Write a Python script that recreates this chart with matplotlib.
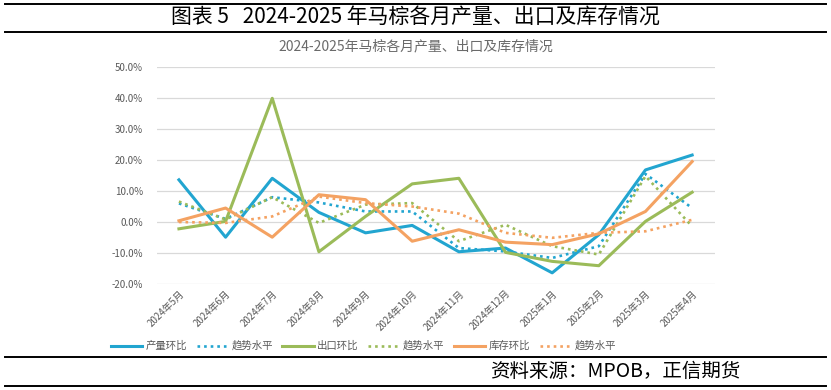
import matplotlib
matplotlib.use("Agg")
import matplotlib.pyplot as plt
from matplotlib.ticker import FuncFormatter, MultipleLocator
from matplotlib.lines import Line2D
import numpy as np

plt.rcParams['font.family'] = ['Noto Sans CJK SC', 'DejaVu Sans']

# ── data (percent) ────────────────────────────────────────────────────────────
MONTHS = ["2024年5月", "2024年6月", "2024年7月", "2024年8月", "2024年9月",
          "2024年10月", "2024年11月", "2024年12月", "2025年1月", "2025年2月",
          "2025年3月", "2025年4月"]

prod_mom    = [13.6, -4.9, 14.1, 3.1, -3.5, -1.1, -9.6, -8.4, -16.4, -4.1, 16.8, 21.6]
prod_trend  = [6.0, 1.0, 8.0, 6.3, 3.4, 3.4, -8.4, -9.5, -11.6, -7.8, 15.5, 4.5]
export_mom  = [-2.2, 0.2, 39.9, -9.6, 1.8, 12.3, 14.1, -9.8, -12.7, -14.1, 0.2, 9.6]
export_trend = [6.6, 0.8, 8.0, -0.3, 5.6, 6.1, -6.2, -0.9, -7.8, -10.5, 14.8, -1.4]
stock_mom   = [0.4, 4.5, -4.9, 8.8, 7.2, -6.2, -2.5, -6.5, -7.3, -3.8, 3.4, 19.5]
stock_trend = [0.0, -0.3, 1.8, 8.2, 6.1, 5.0, 2.7, -3.5, -5.1, -3.5, -3.0, 0.7]

BLUE = "#22A5D0"
GREEN = "#9BBB59"
ORANGE = "#F4A262"
DOTS = (0, (1, 1.5))

fig = plt.figure(figsize=(8.31, 3.90), dpi=100)
fig.patch.set_facecolor("white")

# ── header / footer rules ─────────────────────────────────────────────────────
for y in [1 - 4 / 390, 1 - 32 / 390, 1 - 357 / 390, 1 - 386 / 390]:
    fig.add_artist(Line2D([0.006, 0.994], [y, y], color="black", lw=1.4))

fig.text(0.5, 1 - 18 / 390, "图表 5   2024-2025 年马棕各月产量、出口及库存情况",
         ha="center", va="center", fontsize=15, color="black")
fig.text(0.5, 1 - 46 / 390, "2024-2025年马棕各月产量、出口及库存情况",
         ha="center", va="center", fontsize=10, color="#6A6A6A", fontweight="medium")
fig.text(740 / 831, 1 - 371 / 390, "资料来源：MPOB，正信期货",
         ha="right", va="center", fontsize=14, color="black")

# ── axes ──────────────────────────────────────────────────────────────────────
ax = fig.add_axes([157 / 831, 1 - 284 / 390, (715 - 157) / 831, (284 - 67) / 390])
x = np.arange(len(MONTHS))

ax.plot(x, prod_mom, color=BLUE, lw=2.2, label="产量环比", zorder=3)
ax.plot(x, prod_trend, color=BLUE, lw=1.9, linestyle=DOTS, label="趋势水平", zorder=3)
ax.plot(x, export_mom, color=GREEN, lw=2.2, label="出口环比", zorder=3)
ax.plot(x, export_trend, color=GREEN, lw=1.9, linestyle=DOTS, label="趋势水平", zorder=3)
ax.plot(x, stock_mom, color=ORANGE, lw=2.2, label="库存环比", zorder=3)
ax.plot(x, stock_trend, color=ORANGE, lw=1.9, linestyle=DOTS, label="趋势水平", zorder=3)

ax.set_xlim(-0.47, 11.49)
ax.set_ylim(-20, 50)
ax.yaxis.set_major_locator(MultipleLocator(10))
ax.yaxis.set_major_formatter(FuncFormatter(lambda v, p: f"{v:.1f}%"))
ax.yaxis.grid(True, color="#D9D9D9", lw=0.9)
ax.set_axisbelow(True)
for s in ax.spines.values():
    s.set_visible(False)
ax.tick_params(axis="y", length=0, labelsize=7, labelcolor="#595959", pad=10)
ax.tick_params(axis="x", length=0, labelsize=7, labelcolor="#595959", pad=3)
ax.set_xticks(x)
ax.set_xticklabels(MONTHS, rotation=45, ha="right", rotation_mode="anchor")

ax.legend(loc="center", bbox_to_anchor=(0.37, 1 - (346 - 67) / (284 - 67)),
          ncol=6, frameon=False, fontsize=7.5, handlelength=3.0,
          columnspacing=0.9, handletextpad=0.35, labelcolor="#595959")

fig.savefig("out.png", dpi=100, facecolor="white")
